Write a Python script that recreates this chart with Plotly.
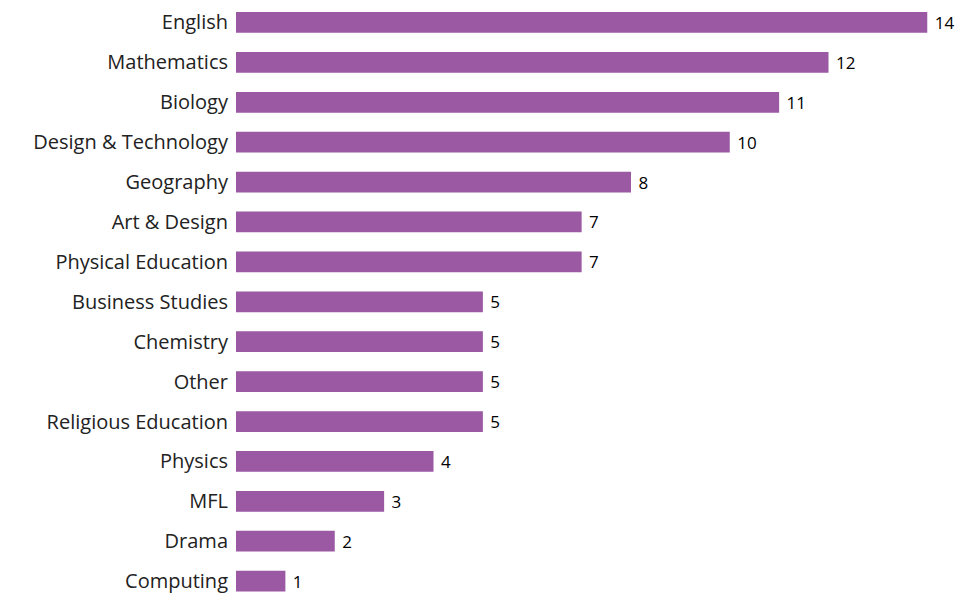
import plotly.graph_objects as go

subjects = ["English", "Mathematics", "Biology", "Design & Technology", "Geography",
            "Art & Design", "Physical Education", "Business Studies", "Chemistry",
            "Other", "Religious Education", "Physics", "MFL", "Drama", "Computing"]
counts = [14, 12, 11, 10, 8, 7, 7, 5, 5, 5, 5, 4, 3, 2, 1]

bar_color = "#9B59A3"
font_family = "Open Sans, Noto Sans, sans-serif"

fig = go.Figure(go.Bar(
    x=counts,
    y=subjects,
    orientation="h",
    marker=dict(color=bar_color, line=dict(width=0)),
    width=0.52,
    text=["\u00a0" + str(c) for c in counts],
    textposition="outside",
    constraintext="none",
    textfont=dict(family=font_family, size=17, color="#000000"),
    cliponaxis=False,
))

fig.update_layout(
    width=968, height=593,
    margin=dict(l=228, r=28, t=0, b=0),
    paper_bgcolor="white", plot_bgcolor="white",
    showlegend=False,
    font=dict(family=font_family, color="#222222"),
    xaxis=dict(range=[0, 14.42], visible=False, showgrid=False, zeroline=False),
    yaxis=dict(type="category", categoryorder="array", categoryarray=subjects,
               range=[14.498, -0.312], showgrid=False, zeroline=False,
               showline=False, ticks="", ticklabelstandoff=7,
               tickfont=dict(family=font_family, size=20, color="#222222")),
)

fig.write_html("out.html")
